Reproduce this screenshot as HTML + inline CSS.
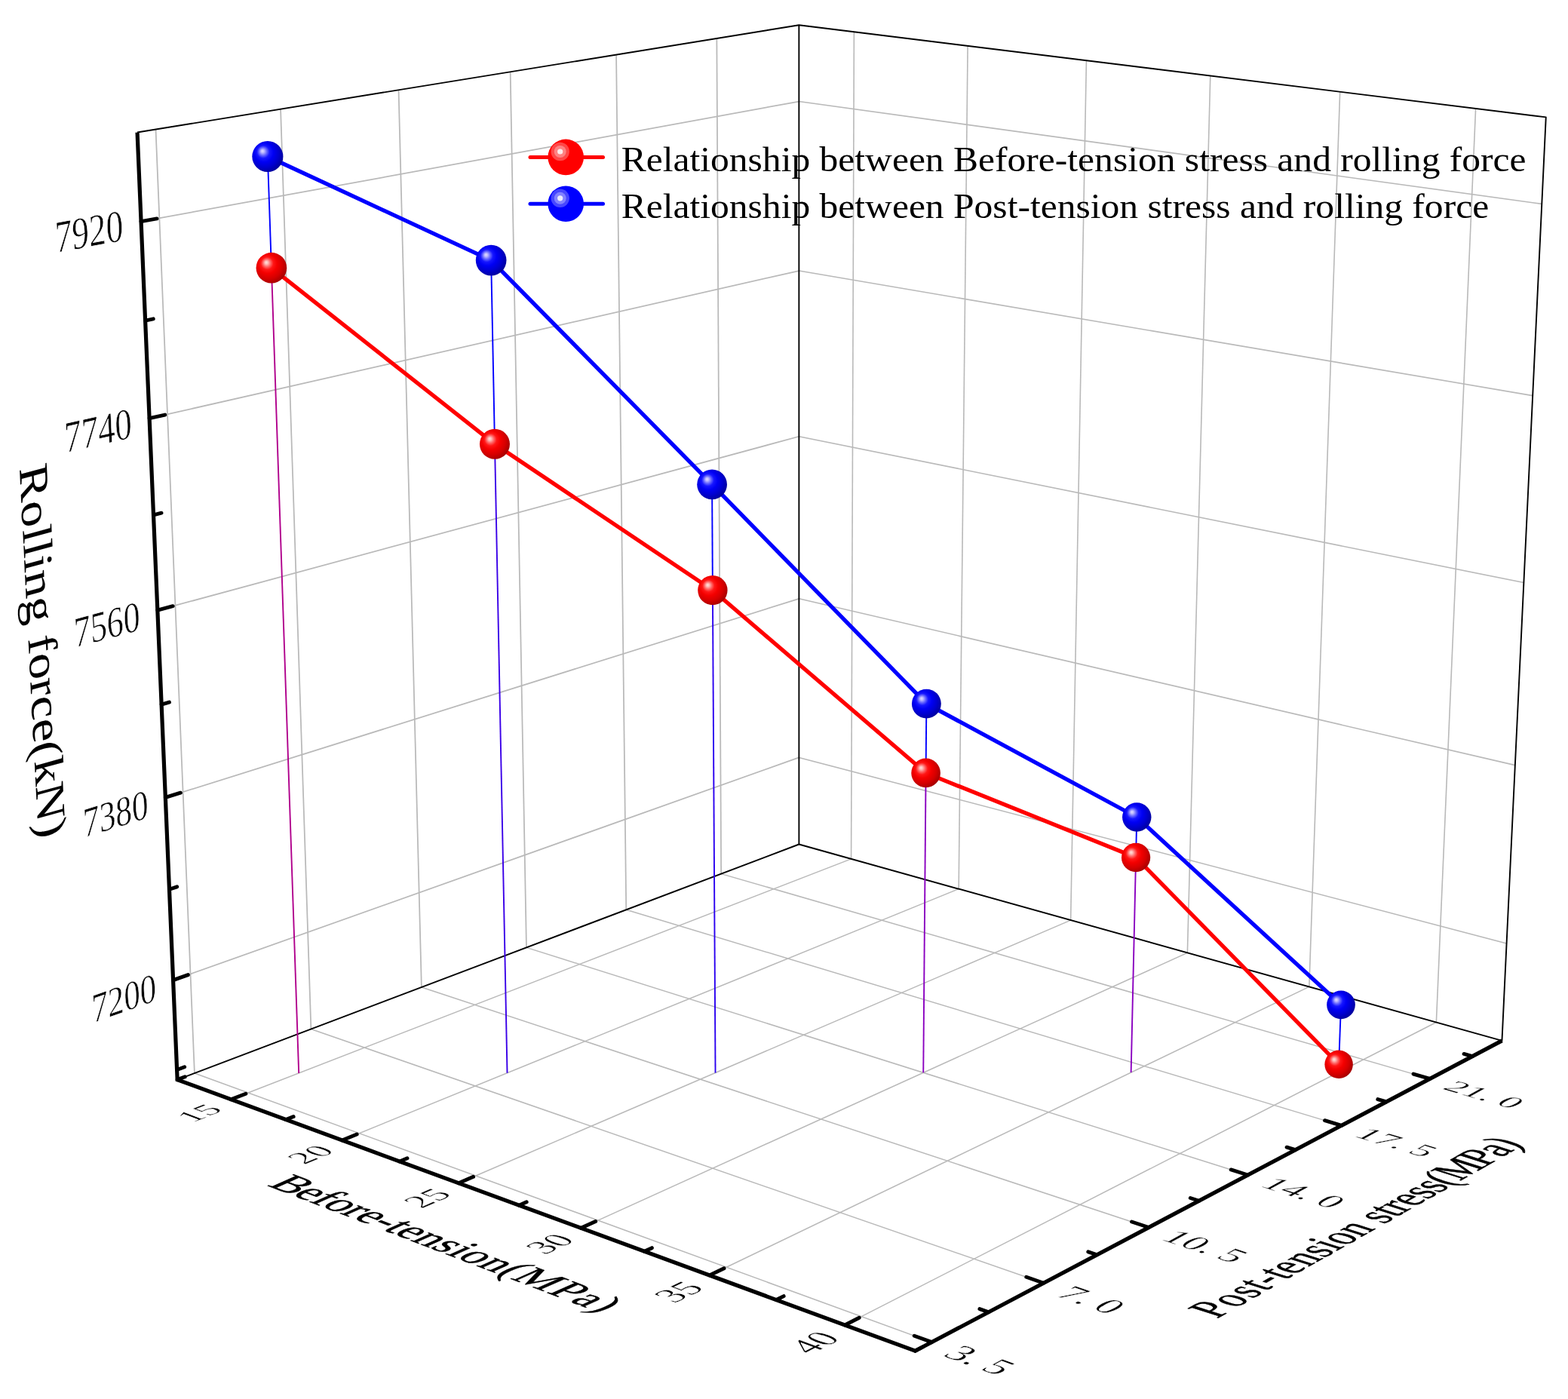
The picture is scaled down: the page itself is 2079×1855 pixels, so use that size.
<!DOCTYPE html>
<html lang="en"><head><meta charset="utf-8"><title>Rolling force vs tension stress</title>
<style>
html,body{margin:0;padding:0;background:#fff}
body{width:2079px;height:1855px;overflow:hidden}
svg{display:block}
text{fill:#000}
.tnr{font-family:"Liberation Serif","Times New Roman",serif}
.t3{font-family:"Liberation Serif","Times New Roman",serif;stroke:#000;stroke-linejoin:round}
.tk{font-family:"Liberation Serif","Times New Roman",serif;stroke:#fff;stroke-width:1.3px;stroke-linejoin:round}
</style></head><body>
<svg width="2079" height="1855" viewBox="0 0 2079 1855">
<rect width="2079" height="1855" fill="#fff"/>
<defs>
<radialGradient id="gr" cx="0.42" cy="0.42" r="0.62" fx="0.33" fy="0.32">
<stop offset="0" stop-color="#ffe2dc"/><stop offset="0.08" stop-color="#ffc0bc"/><stop offset="0.2" stop-color="#ff6868"/><stop offset="0.33" stop-color="#ff1616"/><stop offset="0.5" stop-color="#f40000"/><stop offset="0.75" stop-color="#d40000"/><stop offset="1" stop-color="#a00000"/></radialGradient>
<radialGradient id="gb" cx="0.42" cy="0.42" r="0.62" fx="0.33" fy="0.32">
<stop offset="0" stop-color="#e2dcff"/><stop offset="0.08" stop-color="#c0bcff"/><stop offset="0.2" stop-color="#6868ff"/><stop offset="0.33" stop-color="#1616ff"/><stop offset="0.5" stop-color="#0000f4"/><stop offset="0.75" stop-color="#0000cc"/><stop offset="1" stop-color="#000098"/></radialGradient>
</defs>
<g stroke="#b9b9b9" stroke-width="1.5" fill="none"><line x1="306.3" y1="1457.79" x2="1128.57" y2="1138.83" /><line x1="453.63" y1="1511.94" x2="1271.15" y2="1178.66" /><line x1="608.13" y1="1568.73" x2="1419.63" y2="1220.12" /><line x1="770.32" y1="1628.35" x2="1574.38" y2="1263.35" /><line x1="940.78" y1="1691.01" x2="1735.81" y2="1308.43" /><line x1="1120.18" y1="1756.95" x2="1904.36" y2="1355.5" /><line x1="257.91" y1="1423.02" x2="1235.4" y2="1779.62" /><line x1="412.39" y1="1364.52" x2="1383.68" y2="1701.21" /><line x1="558.88" y1="1309.05" x2="1523.15" y2="1627.46" /><line x1="697.98" y1="1256.37" x2="1654.57" y2="1557.97" /><line x1="830.25" y1="1206.28" x2="1778.62" y2="1492.37" /><line x1="956.16" y1="1158.6" x2="1895.9" y2="1430.35" /></g>
<g stroke="#b9b9b9" stroke-width="1.75" fill="none"><line x1="257.91" y1="1423.02" x2="206.5" y2="171.56" /><line x1="412.39" y1="1364.52" x2="372.05" y2="144.71" /><line x1="558.88" y1="1309.05" x2="528.52" y2="119.32" /><line x1="697.98" y1="1256.37" x2="676.64" y2="95.3" /><line x1="830.25" y1="1206.28" x2="817.06" y2="72.52" /><line x1="956.16" y1="1158.6" x2="950.36" y2="50.89" /><line x1="229.58" y1="1299.62" x2="1059.37" y2="1004.42" /><line x1="219.34" y1="1057.44" x2="1059.37" y2="793.84" /><line x1="208.85" y1="809.21" x2="1059.36" y2="578.78" /><line x1="198.09" y1="554.71" x2="1059.36" y2="359.07" /><line x1="187.06" y1="293.69" x2="1059.35" y2="134.57" /></g>
<g stroke="#b9b9b9" stroke-width="1.6" fill="none"><line x1="1128.57" y1="1138.83" x2="1132.37" y2="42.22" /><line x1="1271.15" y1="1178.66" x2="1283.1" y2="60.82" /><line x1="1419.63" y1="1220.12" x2="1440.42" y2="80.23" /><line x1="1574.38" y1="1263.35" x2="1604.78" y2="100.51" /><line x1="1735.81" y1="1308.43" x2="1776.67" y2="121.71" /><line x1="1904.36" y1="1355.5" x2="1956.6" y2="143.91" /><line x1="1059.37" y1="1004.42" x2="1997.59" y2="1250.95" /><line x1="1059.37" y1="793.84" x2="2008.84" y2="1014.64" /><line x1="1059.36" y1="578.78" x2="2020.37" y2="772.59" /><line x1="1059.36" y1="359.07" x2="2032.18" y2="524.59" /><line x1="1059.35" y1="134.57" x2="2044.28" y2="270.41" /></g>
<g stroke="#000" stroke-width="1.9" fill="none" stroke-linejoin="round"><polyline points="182.06,175.53 1059.35,33.21 2049.76,155.4 1991.45,1379.83 1059.38,1119.51 235.16,1431.64" /><line x1="1059.35" y1="33.21" x2="1059.38" y2="1119.51" /></g>
<line x1="354.87" y1="207.5" x2="359.9" y2="355.2" stroke="#0000ff" stroke-width="1.9"/><line x1="359.9" y1="355.2" x2="396.2" y2="1422.92" stroke="#b0008c" stroke-width="1.9"/><line x1="651.14" y1="345.1" x2="655.98" y2="588.8" stroke="#0000ff" stroke-width="1.9"/><line x1="655.98" y1="588.8" x2="672.52" y2="1422.71" stroke="#3a00e8" stroke-width="1.9"/><line x1="944.09" y1="642.4" x2="944.89" y2="782.6" stroke="#0000ff" stroke-width="1.9"/><line x1="944.89" y1="782.6" x2="948.54" y2="1422.5" stroke="#2a00f0" stroke-width="1.9"/><line x1="1228.36" y1="933.1" x2="1227.59" y2="1024.9" stroke="#0000ff" stroke-width="1.9"/><line x1="1227.59" y1="1024.9" x2="1224.24" y2="1422.29" stroke="#8a00c0" stroke-width="1.9"/><line x1="1507.26" y1="1083.5" x2="1506.06" y2="1137" stroke="#0000ff" stroke-width="1.9"/><line x1="1506.06" y1="1137" x2="1499.63" y2="1422.08" stroke="#8a00c0" stroke-width="1.9"/><line x1="1777.99" y1="1332.3" x2="1775.1" y2="1411.3" stroke="#0000ff" stroke-width="1.9"/><line x1="1775.1" y1="1411.3" x2="1774.71" y2="1421.87" stroke="#0000ff" stroke-width="1.9"/>
<g stroke="#000" stroke-width="4.9" fill="none" stroke-linecap="round"><polyline points="182.06,175.53 235.16,1431.64 1213.45,1791.23 1991.45,1379.83" stroke-width="5.2" stroke-linejoin="miter" stroke-linecap="butt"/><line x1="229.58" y1="1299.62" x2="249.33" y2="1292.6" /><line x1="219.34" y1="1057.44" x2="239.37" y2="1051.16" /><line x1="208.85" y1="809.21" x2="229.17" y2="803.71" /><line x1="198.09" y1="554.71" x2="218.71" y2="550.03" /><line x1="187.06" y1="293.69" x2="207.98" y2="289.88" /><line x1="234.6" y1="1418.52" x2="244.67" y2="1414.73" /><line x1="224.49" y1="1179.28" x2="234.7" y2="1175.86" /><line x1="214.13" y1="934.1" x2="224.48" y2="931.07" /><line x1="203.5" y1="682.76" x2="214" y2="680.15" /><line x1="192.61" y1="425.03" x2="203.26" y2="422.85" /><line x1="306.3" y1="1457.79" x2="325.89" y2="1450.19" /><line x1="453.63" y1="1511.94" x2="473.18" y2="1503.98" /><line x1="608.13" y1="1568.73" x2="627.59" y2="1560.37" /><line x1="770.32" y1="1628.35" x2="789.67" y2="1619.56" /><line x1="940.78" y1="1691.01" x2="959.99" y2="1681.76" /><line x1="1120.18" y1="1756.95" x2="1139.2" y2="1747.21" /><line x1="235.16" y1="1431.64" x2="245.21" y2="1427.83" /><line x1="379.1" y1="1484.55" x2="389.14" y2="1480.56" /><line x1="529.96" y1="1540" x2="539.96" y2="1535.81" /><line x1="688.23" y1="1598.17" x2="698.19" y2="1593.78" /><line x1="854.47" y1="1659.28" x2="864.37" y2="1654.66" /><line x1="1029.32" y1="1723.55" x2="1039.13" y2="1718.68" /><line x1="1213.45" y1="1791.23" x2="1223.15" y2="1786.1" /><line x1="1235.4" y1="1779.62" x2="1212.26" y2="1771.18" /><line x1="1383.68" y1="1701.21" x2="1360.78" y2="1693.27" /><line x1="1523.15" y1="1627.46" x2="1500.51" y2="1619.98" /><line x1="1654.57" y1="1557.97" x2="1632.19" y2="1550.91" /><line x1="1778.62" y1="1492.37" x2="1756.51" y2="1485.7" /><line x1="1895.9" y1="1430.35" x2="1874.06" y2="1424.04" /><line x1="1310.69" y1="1739.81" x2="1298.88" y2="1735.61" /><line x1="1454.47" y1="1663.78" x2="1442.79" y2="1659.83" /><line x1="1589.83" y1="1592.21" x2="1578.28" y2="1588.48" /><line x1="1717.48" y1="1524.7" x2="1706.07" y2="1521.18" /><line x1="1838.08" y1="1460.93" x2="1826.8" y2="1457.61" /><line x1="1952.18" y1="1400.6" x2="1941.05" y2="1397.44" /></g>
<polyline points="354.87,207.5 651.14,345.1 944.09,642.4 1228.36,933.1 1507.26,1083.5 1777.99,1332.3" stroke="#0000ff" stroke-width="5.3" fill="none" stroke-linejoin="round"/>
<polyline points="359.9,355.2 655.98,588.8 944.89,782.6 1227.59,1024.9 1506.06,1137 1775.1,1411.3" stroke="#ff0000" stroke-width="5.3" fill="none" stroke-linejoin="round"/>
<circle cx="354.87" cy="207.5" r="20.56" fill="url(#gb)"/>
<circle cx="651.14" cy="345.1" r="20.34" fill="url(#gb)"/>
<circle cx="944.09" cy="642.4" r="19.88" fill="url(#gb)"/>
<circle cx="1228.36" cy="933.1" r="19.44" fill="url(#gb)"/>
<circle cx="1507.26" cy="1083.5" r="19.21" fill="url(#gb)"/>
<circle cx="1777.99" cy="1332.3" r="18.83" fill="url(#gb)"/>
<circle cx="359.9" cy="355.2" r="20.34" fill="url(#gr)"/>
<circle cx="655.98" cy="588.8" r="19.98" fill="url(#gr)"/>
<circle cx="944.89" cy="782.6" r="19.68" fill="url(#gr)"/>
<circle cx="1227.59" cy="1024.9" r="19.31" fill="url(#gr)"/>
<circle cx="1506.06" cy="1137" r="19.13" fill="url(#gr)"/>
<circle cx="1775.1" cy="1411.3" r="18.72" fill="url(#gr)"/>
<line x1="703" y1="208.4" x2="799.5" y2="208.4" stroke="#ff0000" stroke-width="5" stroke-linecap="round"/><circle cx="750.2" cy="208.4" r="23.8" fill="#ff0000"/><circle cx="742.7" cy="201" r="12.2" fill="#fff" fill-opacity="0.28"/><circle cx="742.7" cy="201" r="8" fill="#fff" fill-opacity="0.32"/><circle cx="742.7" cy="201" r="3.6" fill="#fff" fill-opacity="0.85"/>
<line x1="703" y1="270.2" x2="799.5" y2="270.2" stroke="#0000ff" stroke-width="5" stroke-linecap="round"/><circle cx="750.2" cy="270.2" r="23.8" fill="#0000ff"/><circle cx="742.7" cy="262.8" r="12.2" fill="#fff" fill-opacity="0.28"/><circle cx="742.7" cy="262.8" r="8" fill="#fff" fill-opacity="0.32"/><circle cx="742.7" cy="262.8" r="3.6" fill="#fff" fill-opacity="0.85"/>
<text transform="matrix(1 0 0 0.952 823.7 226.7)" font-size="49.57" class="tnr">Relationship between Before-tension stress and rolling force</text>
<text transform="matrix(1 0 0 0.952 823.7 288.8)" font-size="49.57" class="tnr">Relationship between Post-tension stress and rolling force</text>
<text transform="matrix(0.42649 -0.15179 0.02484 0.54419 206.96894 1307.66131)" x="-200" y="34.5" font-size="100" class="tk">7200</text>
<text transform="matrix(0.43262 -0.13582 0.02546 0.55785 196.41677 1064.62981)" x="-200" y="34.5" font-size="100" class="tk">7380</text>
<text transform="matrix(0.43893 -0.11899 0.02611 0.57202 185.60023 815.50720)" x="-200" y="34.5" font-size="100" class="tk">7560</text>
<text transform="matrix(0.44542 -0.10125 0.02678 0.58675 174.50926 560.06159)" x="-200" y="34.5" font-size="100" class="tk">7740</text>
<text transform="matrix(0.45210 -0.08254 0.02748 0.60204 163.13329 298.04917)" x="-200" y="34.5" font-size="100" class="tk">7920</text>
<text transform="matrix(0.42622 -0.16546 0.36746 0.13706 284.99577 1467.35770)" x="-100" y="34.5" font-size="100" class="tk">15</text>
<text transform="matrix(0.42533 -0.17354 0.38524 0.14370 432.47329 1521.97912)" x="-100" y="34.5" font-size="100" class="tk">20</text>
<text transform="matrix(0.42384 -0.18223 0.40434 0.15082 587.14613 1579.26541)" x="-100" y="34.5" font-size="100" class="tk">25</text>
<text transform="matrix(0.42167 -0.19159 0.42490 0.15849 749.55403 1639.41646)" x="-100" y="34.5" font-size="100" class="tk">30</text>
<text transform="matrix(0.41871 -0.20168 0.44707 0.16676 920.29210 1702.65266)" x="-100" y="34.5" font-size="100" class="tk">35</text>
<text transform="matrix(0.41484 -0.21258 0.47102 0.17569 1100.01809 1769.21762)" x="-100" y="34.5" font-size="100" class="tk">40</text>
<text transform="matrix(0.49738 0.18149 -0.41176 0.22269 1262.48873 1789.50223)" x="0 50 100" y="34.5" font-size="100" class="tk">3.5</text>
<text transform="matrix(0.49189 0.17054 -0.38671 0.20914 1410.48960 1710.50221)" x="0 50 100" y="34.5" font-size="100" class="tk">7.0</text>
<text transform="matrix(0.48773 0.16109 -0.36348 0.19744 1549.52471 1636.16680)" x="0 50 100 150" y="34.5" font-size="100" class="tk">10.5</text>
<text transform="matrix(0.48175 0.15192 -0.34260 0.18610 1680.64435 1566.18403)" x="0 50 100 150" y="34.5" font-size="100" class="tk">14.0</text>
<text transform="matrix(0.47566 0.14351 -0.32347 0.17571 1804.38411 1500.13971)" x="0 50 100 150" y="34.5" font-size="100" class="tk">17.5</text>
<text transform="matrix(0.46950 0.13579 -0.30590 0.16617 1921.34996 1437.71047)" x="0 50 100 150" y="34.5" font-size="100" class="tk">21.0</text>
<text transform="matrix(0.03416 0.68261 -0.54427 0.14885 38.67506 870.75896)" x="-365.07 -296.68 -245.61 -217.32 -189.07 -160.88 -110.28 -59.85 -34.71 -1.27 48.78 82.02 126.22 170.27 203.24 252.6 323.61" y="0.37 0.3 0.25 0.22 0.19 0.16 0.11 0.06 0.04 0 -0.05 -0.08 -0.13 -0.17 -0.21 -0.26 -0.33" font-size="100" class="t3" stroke-width="0.1">Rolling force(kN)</text>
<text transform="matrix(0.52163 0.19873 -0.52783 0.23323 567.68235 1653.80222)" x="-412 -349.14 -306.94 -275.09 -226.94 -194.67 -151.38 -118.71 -91.31 -47.3 2.67 41.84 69.95 120.87 172.2 206.62 299.46 358.22 405.51" y="-1 -0.84 -0.74 -0.67 -0.55 -0.47 -0.37 -0.29 -0.22 -0.11 0.01 0.1 0.17 0.29 0.42 0.5 0.72 0.87 0.98" font-size="100" class="t3" stroke-width="1.1">Before-tension(MPa)</text>
<text transform="matrix(0.40692 -0.22901 0.61503 0.19517 1826.32721 1627.96143)" x="-524.8 -463.68 -409.3 -367.35 -337.6 -302.15 -272.76 -226.13 -174.08 -133.91 -105.42 -54.54 -4.14 20.88 59.59 87.05 119.78 163.08 200.75 238.14 269.93 353.84 405.62 446.57" y="1.5 1.33 1.17 1.05 0.97 0.87 0.78 0.65 0.5 0.38 0.3 0.16 0.01 -0.06 -0.17 -0.25 -0.34 -0.47 -0.58 -0.68 -0.77 -1.01 -1.16 -1.28" font-size="100" class="t3" stroke-width="1.1">Post-tension stress(MPa)</text>
</svg>
</body></html>
